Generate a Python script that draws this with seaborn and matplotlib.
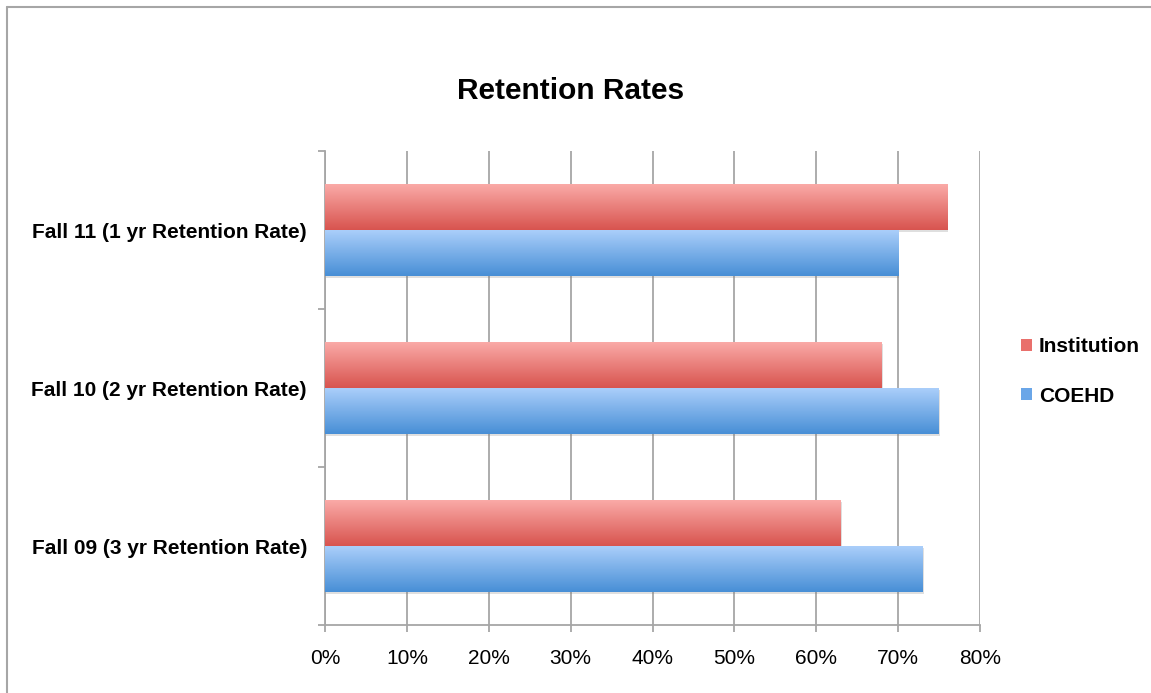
import numpy as np
import pandas as pd
import matplotlib
matplotlib.use("Agg")
import matplotlib.pyplot as plt
import seaborn as sns
from matplotlib.patches import Patch, Rectangle
from matplotlib.ticker import PercentFormatter

# Data
categories = ["Fall 11 (1 yr Retention Rate)", "Fall 10 (2 yr Retention Rate)", "Fall 09 (3 yr Retention Rate)"]
institution = [76, 68, 63]
coehd = [70, 75, 73]
series = ["Institution", "COEHD"]

dataFrame = pd.DataFrame({
    "category": categories * 2,
    "series": ["Institution"] * 3 + ["COEHD"] * 3,
    "value": institution + coehd,
})

sns.set_style("white")
plt.rcParams['font.family'] = ['Liberation Sans', 'DejaVu Sans']
plt.rcParams['text.color'] = 'black'
plt.rcParams['xtick.labelcolor'] = 'black'
plt.rcParams['ytick.labelcolor'] = 'black'

fig = plt.figure(figsize=(11.51, 6.93), dpi=100)
ax = fig.add_axes([0.2824, 0.0981, 0.569, 0.684])

# gradient end colours (top, bottom) for each series
grad = {
    "Institution": ((250, 170, 167), (216, 84, 79)),
    "COEHD": ((170, 206, 250), (72, 143, 214)),
}
mid = {"Institution": "#E9706C", "COEHD": "#6AA6E8"}

sns.barplot(data=dataFrame, x="value", y="category", hue="series", hue_order=series,
            order=categories, orient="h", width=0.58, palette=mid, ax=ax, legend=False, zorder=3)

ax.set_xlim(0, 80)
ax.set_ylim(2.5, -0.5)
xlim, ylim = ax.get_xlim(), ax.get_ylim()

# Replace flat bars by vertical gradients with a small shadow
for i, bar in enumerate(ax.patches):
    name = series[i // 3]
    x0, y0 = bar.get_x(), bar.get_y()
    w, h = bar.get_width(), bar.get_height()
    if w <= 0:
        continue
    top, bot = np.array(grad[name][0]) / 255, np.array(grad[name][1]) / 255
    t = np.linspace(0, 1, 64)[:, None]
    img = (top * (1 - t) + bot * t)[:, None, :]
    bar.set_facecolor("none")
    bar.set_edgecolor("none")
    ax.add_patch(Rectangle((x0 + 0.12, y0 + 0.012), w, h, color="gray", alpha=0.25, lw=0, zorder=2))
    ax.imshow(img, extent=(x0, x0 + w, y0 + h, y0), aspect="auto", zorder=3, interpolation="bilinear")

ax.set_xlim(xlim)
ax.set_ylim(ylim)

# Axes, grid and ticks
ax.set_xticks(range(0, 81, 10))
ax.xaxis.set_major_formatter(PercentFormatter(decimals=0))
ax.grid(axis="x", color="#A6A6A6", linewidth=1.3, zorder=0)
ax.set_axisbelow(True)
for side in ["top", "right"]:
    ax.spines[side].set_visible(False)
for side in ["left", "bottom"]:
    ax.spines[side].set_color("#A6A6A6")
    ax.spines[side].set_linewidth(1.3)
ax.set_yticks([-0.5, 0.5, 1.5, 2.5], minor=True)
ax.tick_params(axis="y", which="major", length=0, pad=13, labelsize=15)
ax.tick_params(axis="y", which="minor", length=5, width=1.3, color="#A6A6A6", left=True)
ax.tick_params(axis="x", length=5, width=1.3, color="#A6A6A6", bottom=True, labelsize=15, pad=12)
for lbl in ax.get_yticklabels():
    lbl.set_fontweight("bold")
ax.set_xlabel("")
ax.set_ylabel("")

# Title and legend
fig.text(0.496, 0.868, "Retention Rates", ha="center", va="center", fontsize=21.5, fontweight="bold")
handles = [Patch(facecolor=mid[s], edgecolor="none") for s in series]
ax.legend(handles, series, loc="center left", bbox_to_anchor=(1.063, 0.535), frameon=False,
          handlelength=0.5, handleheight=0.5, handletextpad=0.35, labelspacing=1.45,
          prop={"size": 15, "weight": "bold"}, borderpad=0, borderaxespad=0)

# thin frame round the chart (top and left edges visible)
fig.add_artist(plt.Line2D([0.006, 1.0], [0.99, 0.99], color="#A6A6A6", lw=1.5, transform=fig.transFigure))
fig.add_artist(plt.Line2D([0.006, 0.006], [0.0, 0.99], color="#A6A6A6", lw=1.5, transform=fig.transFigure))

fig.savefig("out.png", dpi=100)
